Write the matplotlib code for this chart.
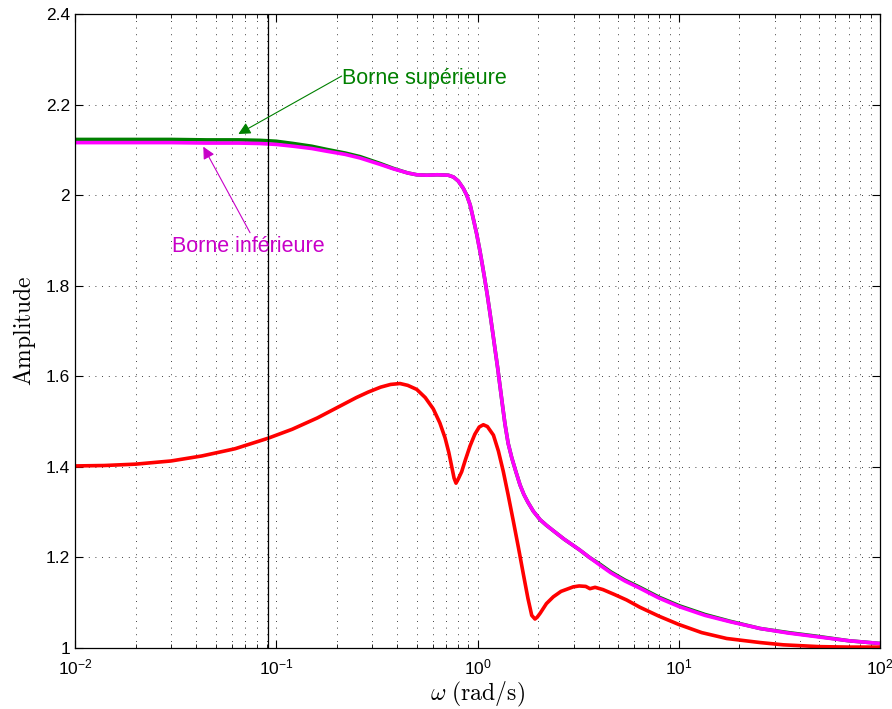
import math
import matplotlib
matplotlib.use('Agg')
import matplotlib.pyplot as plt
from matplotlib.ticker import LogLocator, FuncFormatter, NullFormatter, FixedLocator

plt.rcParams['font.family'] = ['Liberation Sans', 'DejaVu Sans']
plt.rcParams['mathtext.fontset'] = 'custom'
plt.rcParams['mathtext.rm'] = 'Liberation Sans'
plt.rcParams['mathtext.it'] = 'Liberation Sans:italic'
plt.rcParams['mathtext.bf'] = 'Liberation Sans:bold'

# upper / lower bound of the amplitude (shared frequencies)
w_bound = [0.01, 0.02, 0.03, 0.045, 0.065, 0.083, 0.1, 0.1216, 0.15, 0.178,
           0.22, 0.261, 0.3277, 0.382, 0.45, 0.499, 0.56, 0.63, 0.716, 0.76,
           0.803, 0.85, 0.884, 0.92, 0.953, 0.99, 1.029, 1.06, 1.089, 1.12,
           1.153, 1.19, 1.222, 1.26, 1.294, 1.33, 1.37, 1.42, 1.48, 1.55,
           1.627, 1.70, 1.78, 1.894, 2.05, 2.2, 2.38, 2.7, 3.0, 3.23,
           3.6, 4.06, 4.6, 5.4, 6.41, 8.0, 10.1, 13.5, 18.0, 25.4,
           35.0, 48.4, 70.0, 100.0]
borne_inf = [2.116, 2.116, 2.116, 2.115, 2.115, 2.114, 2.112, 2.108, 2.103, 2.097,
             2.090, 2.082, 2.068, 2.058, 2.049, 2.045, 2.044, 2.045, 2.044, 2.040,
             2.031, 2.015, 2.000, 1.978, 1.948, 1.915, 1.876, 1.843, 1.812, 1.778,
             1.740, 1.697, 1.660, 1.618, 1.578, 1.537, 1.494, 1.452, 1.420, 1.390,
             1.360, 1.339, 1.322, 1.302, 1.283, 1.271, 1.259, 1.240, 1.226, 1.216,
             1.200, 1.183, 1.166, 1.148, 1.132, 1.110, 1.091, 1.072, 1.058, 1.043,
             1.033, 1.025, 1.016, 1.010]
borne_sup = [2.123, 2.123, 2.123, 2.122, 2.122, 2.121, 2.119, 2.114, 2.108, 2.101,
             2.093, 2.085, 2.070, 2.059, 2.049, 2.045, 2.044, 2.045, 2.044, 2.040,
             2.031, 2.015, 2.000, 1.978, 1.948, 1.915, 1.876, 1.843, 1.812, 1.778,
             1.740, 1.697, 1.660, 1.618, 1.578, 1.537, 1.494, 1.452, 1.420, 1.390,
             1.360, 1.339, 1.322, 1.302, 1.283, 1.271, 1.259, 1.240, 1.226, 1.216,
             1.200, 1.185, 1.168, 1.150, 1.134, 1.112, 1.093, 1.074, 1.059, 1.043,
             1.034, 1.026, 1.016, 1.010]

# nominal amplitude
w_nom = [0.01, 0.014, 0.02, 0.03, 0.0426, 0.0624, 0.0908, 0.12, 0.16, 0.203,
         0.25, 0.286, 0.33, 0.37, 0.412, 0.45, 0.499, 0.55, 0.603, 0.65,
         0.690, 0.72, 0.745, 0.765, 0.782, 0.80, 0.834, 0.87, 0.918, 0.97,
         1.02, 1.069, 1.12, 1.2, 1.27, 1.343, 1.42, 1.507, 1.6, 1.69,
         1.78, 1.86, 1.93, 1.98, 2.05, 2.2, 2.38, 2.6, 2.99, 3.2,
         3.45, 3.62, 3.84, 4.2, 4.8, 5.51, 6.41, 8.0, 10.0, 13.0,
         17.3, 25.4, 33.1, 50.0, 70.0, 100.0]
amp_nom = [1.402, 1.403, 1.406, 1.413, 1.424, 1.440, 1.463, 1.483, 1.508, 1.532,
           1.553, 1.565, 1.576, 1.582, 1.584, 1.580, 1.571, 1.553, 1.528, 1.497,
           1.464, 1.432, 1.400, 1.375, 1.364, 1.372, 1.389, 1.415, 1.446, 1.472,
           1.488, 1.493, 1.489, 1.470, 1.435, 1.390, 1.338, 1.280, 1.220, 1.163,
           1.110, 1.072, 1.064, 1.068, 1.077, 1.098, 1.113, 1.125, 1.135, 1.137,
           1.136, 1.131, 1.134, 1.129, 1.118, 1.106, 1.090, 1.070, 1.052, 1.034,
           1.021, 1.012, 1.007, 1.003, 1.002, 1.002]

w_marker = 0.0907
yticks = [1.0, 1.2, 1.4, 1.6, 1.8, 2.0, 2.2, 2.4]

fig = plt.figure(figsize=(8.92, 7.09), dpi=100)
ax = fig.add_axes([75/892, 61/709, 805/892, 634/709])

ax.semilogx(w_bound, borne_sup, color='#008000', lw=2.6)
ax.semilogx(w_bound, borne_inf, color='#ff00ff', lw=2.6)
ax.semilogx(w_nom, amp_nom, color='#ff0000', lw=2.6)
ax.axvline(w_marker, color='black', lw=0.9)

ax.set_xlim(1e-2, 1e2)
ax.set_ylim(1, 2.4)
ax.yaxis.set_major_locator(FixedLocator(yticks))
ax.yaxis.set_major_formatter(FuncFormatter(lambda v, p: '%g' % v))
ax.xaxis.set_major_locator(LogLocator(base=10))
ax.xaxis.set_minor_locator(LogLocator(base=10, subs=range(2, 10)))
ax.xaxis.set_minor_formatter(NullFormatter())
ax.xaxis.set_major_formatter(FuncFormatter(lambda v, p: r'$10^{%d}$' % round(math.log10(v))))

ax.tick_params(which='both', direction='in', top=True, right=True, labelsize=12.5)
ax.tick_params(which='major', length=6, width=0.8)
ax.tick_params(which='minor', length=3, width=0.6)
ax.tick_params(axis='x', pad=7)
for s in ax.spines.values():
    s.set_linewidth(0.9)

ax.grid(True, which='major', axis='both', color='black', lw=0.6, ls=(0, (1, 7)))
ax.grid(True, which='minor', axis='x', color='black', lw=0.6, ls=(0, (1, 7)))

ax.set_ylabel(r'$\mathrm{Amplitude}$', math_fontfamily='cm', fontsize=17, labelpad=6)
ax.set_xlabel(r'$\omega\ \mathrm{(rad/s)}$', math_fontfamily='cm', fontsize=17, labelpad=2)

# annotations
ax.annotate('', xy=(0.0648, 2.135), xytext=(0.2113, 2.263),
            arrowprops=dict(arrowstyle='-|>', color='#008000', lw=0.8, mutation_scale=18,
                            shrinkA=0, shrinkB=0))
ax.text(0.2113, 2.2465, 'Borne supérieure', color='#008000', fontsize=15.5, va='baseline', ha='left')

ax.annotate('', xy=(0.0434, 2.107), xytext=(0.0741, 1.917),
            arrowprops=dict(arrowstyle='-|>', color='#c800c8', lw=0.8, mutation_scale=18,
                            shrinkA=0, shrinkB=0))
ax.text(0.0303, 1.874, 'Borne inférieure', color='#c800c8', fontsize=15.5, va='baseline', ha='left')

fig.savefig('out.png', dpi=100)
